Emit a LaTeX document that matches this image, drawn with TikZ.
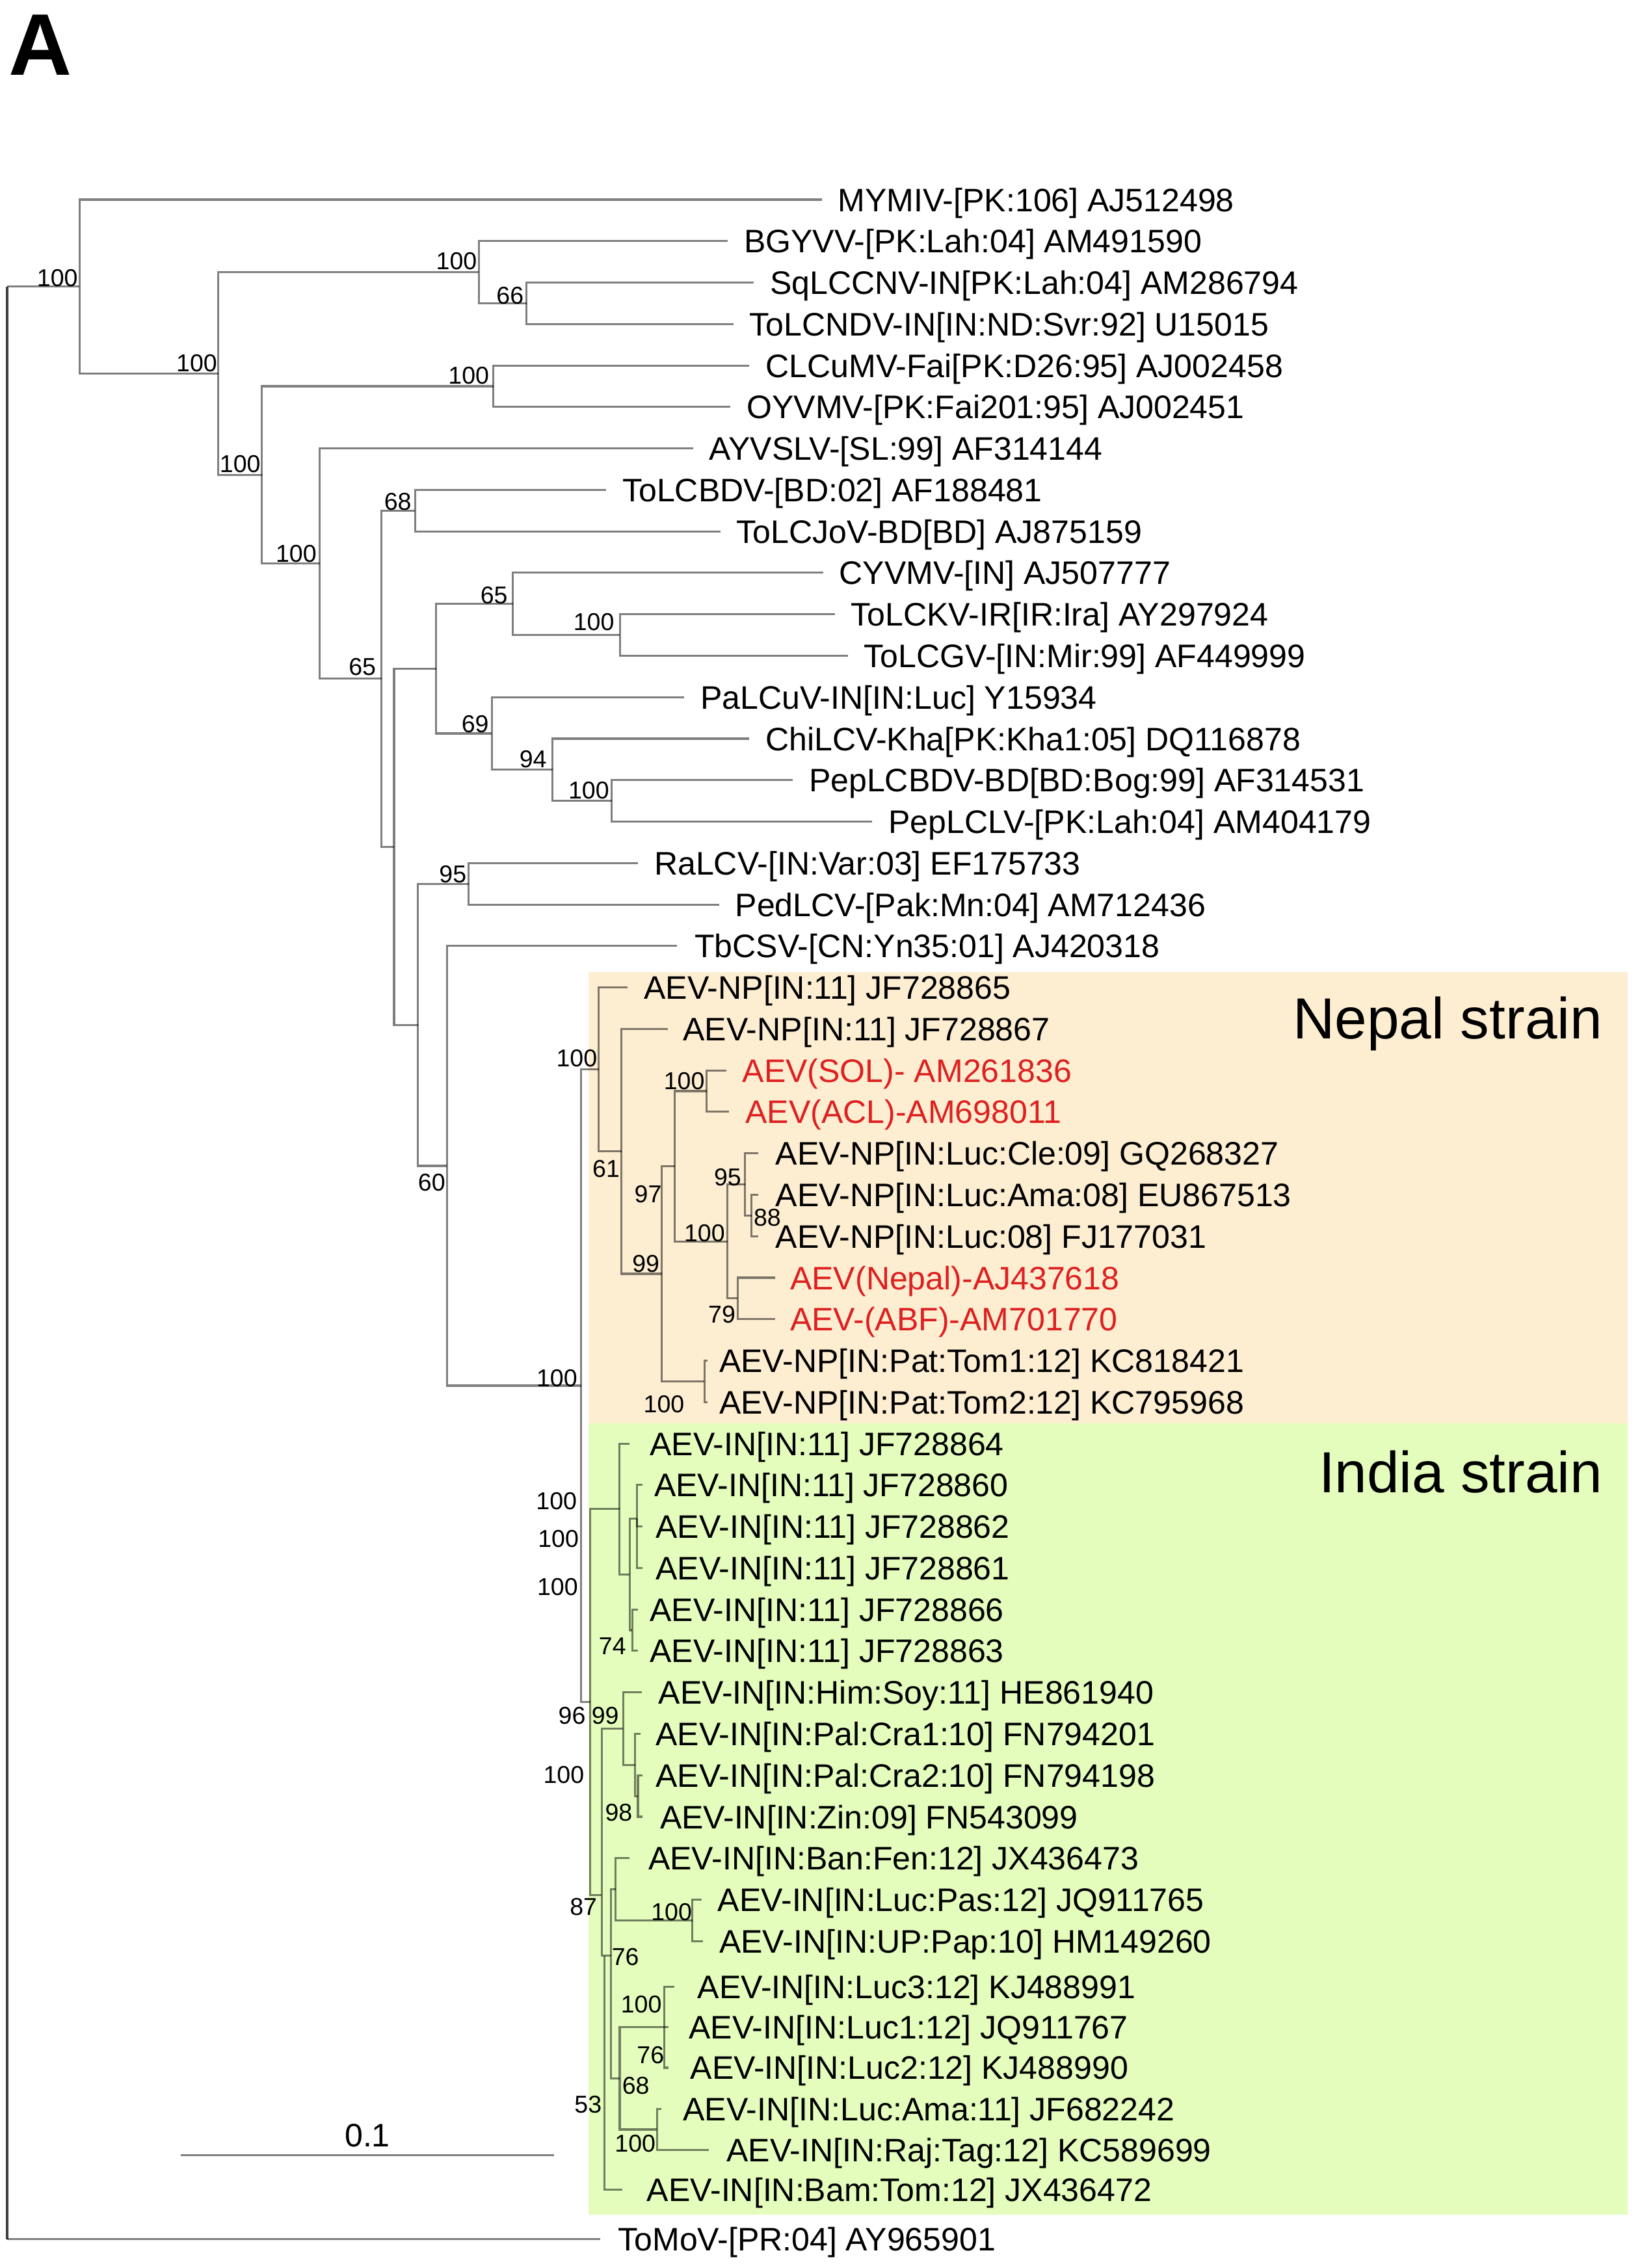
\documentclass[tikz,border=0pt]{standalone}
\usepackage{fontspec}
\setmainfont{Liberation Sans}
\definecolor{nepalbg}{RGB}{253,238,210}
\definecolor{indiabg}{RGB}{228,253,189}
\definecolor{aevred}{RGB}{222,32,32}
\newcommand{\tipfont}{\fontsize{16}{19}\selectfont}
\newcommand{\bsfont}{\fontsize{12}{14}\selectfont}
\newcommand{\tipleaf}[6][]{%
  \coordinate (t#2) at (#3,#5);
  \node[tipl,#1] (l#2) at (#4,#5+8.1) {#6};}
\begin{document}
\begin{tikzpicture}[x=0.025cm,y=-0.025cm,
  br/.style={draw=black,draw opacity=0.5,line width=1.0pt},
  tipl/.style={anchor=base west,inner sep=0pt,font=\tipfont},
  bs/.style={inner sep=0pt,font=\bsfont},
  redl/.style={text=aevred}]
\fill[white] (0,0) rectangle (1135,1568);
\useasboundingbox (0,0) rectangle (1135,1568);
% strain backgrounds
\fill[nepalbg] (407,672) rectangle (1125,984);
\fill[indiabg] (407,984) rectangle (1125,1531);
\node[anchor=base east,inner sep=0pt,font=\fontsize{28.5}{34}\selectfont] (nepal) at (1108,718) {Nepal strain};
\node[anchor=base east,inner sep=0pt,font=\fontsize{28.5}{34}\selectfont] (india) at (1108,1032) {India strain};
% panel letter
\node[anchor=base west,inner sep=0pt,font=\fontsize{43}{50}\selectfont\bfseries] (panel) at (6,51.7) {A};
% leaves
\tipleaf{1}{568}{579}{138}{MYMIV-[PK:106] AJ512498}
\tipleaf{2}{503}{514}{166.67}{BGYVV-[PK:Lah:04] AM491590}
\tipleaf{3}{521}{532}{195.33}{SqLCCNV-IN[PK:Lah:04] AM286794}
\tipleaf{4}{507}{518}{224}{ToLCNDV-IN[IN:ND:Svr:92] U15015}
\tipleaf{5}{518}{529}{252.67}{CLCuMV-Fai[PK:D26:95] AJ002458}
\tipleaf{6}{505}{516}{281.33}{OYVMV-[PK:Fai201:95] AJ002451}
\tipleaf{7}{479}{490}{310}{AYVSLV-[SL:99] AF314144}
\tipleaf{8}{419}{430}{338.67}{ToLCBDV-[BD:02] AF188481}
\tipleaf{9}{498}{509}{367.33}{ToLCJoV-BD[BD] AJ875159}
\tipleaf{10}{569}{580}{396}{CYVMV-[IN] AJ507777}
\tipleaf{11}{577}{588}{424.67}{ToLCKV-IR[IR:Ira] AY297924}
\tipleaf{12}{586}{597}{453.33}{ToLCGV-[IN:Mir:99] AF449999}
\tipleaf{13}{473}{484}{482}{PaLCuV-IN[IN:Luc] Y15934}
\tipleaf{14}{518}{529}{510.67}{ChiLCV-Kha[PK:Kha1:05] DQ116878}
\tipleaf{15}{548}{559}{539.33}{PepLCBDV-BD[BD:Bog:99] AF314531}
\tipleaf{16}{603}{614}{568}{PepLCLV-[PK:Lah:04] AM404179}
\tipleaf{17}{441}{452}{596.67}{RaLCV-[IN:Var:03] EF175733}
\tipleaf{18}{497}{508}{625.33}{PedLCV-[Pak:Mn:04] AM712436}
\tipleaf{19}{468}{480}{654}{TbCSV-[CN:Yn35:01] AJ420318}
\tipleaf{20}{434}{445}{682.67}{AEV-NP[IN:11] JF728865}
\tipleaf{21}{461.5}{472}{711.33}{AEV-NP[IN:11] JF728867}
\tipleaf[redl]{22}{502}{513}{740}{AEV(SOL)- AM261836}
\tipleaf[redl]{23}{504}{515}{768.67}{AEV(ACL)-AM698011}
\tipleaf{24}{524}{536}{797.33}{AEV-NP[IN:Luc:Cle:09] GQ268327}
\tipleaf{25}{524}{536}{826}{AEV-NP[IN:Luc:Ama:08] EU867513}
\tipleaf{26}{524}{536}{854.67}{AEV-NP[IN:Luc:08] FJ177031}
\tipleaf[redl]{27}{536}{546}{883.33}{AEV(Nepal)-AJ437618}
\tipleaf[redl]{28}{536}{546}{912}{AEV-(ABF)-AM701770}
\tipleaf{29}{489}{497}{940.67}{AEV-NP[IN:Pat:Tom1:12] KC818421}
\tipleaf{30}{489}{497}{969.33}{AEV-NP[IN:Pat:Tom2:12] KC795968}
\tipleaf{31}{435}{449}{998}{AEV-IN[IN:11] JF728864}
\tipleaf{32}{444}{452}{1026.67}{AEV-IN[IN:11] JF728860}
\tipleaf{33}{444}{453}{1055.33}{AEV-IN[IN:11] JF728862}
\tipleaf{34}{444}{453}{1084}{AEV-IN[IN:11] JF728861}
\tipleaf{35}{441}{449}{1112.67}{AEV-IN[IN:11] JF728866}
\tipleaf{36}{441}{449}{1141.33}{AEV-IN[IN:11] JF728863}
\tipleaf{37}{443.7}{455}{1170}{AEV-IN[IN:Him:Soy:11] HE861940}
\tipleaf{38}{443}{453}{1198.67}{AEV-IN[IN:Pal:Cra1:10] FN794201}
\tipleaf{39}{444}{453}{1227.33}{AEV-IN[IN:Pal:Cra2:10] FN794198}
\tipleaf{40}{444}{456}{1256}{AEV-IN[IN:Zin:09] FN543099}
\tipleaf{41}{435}{448}{1284.67}{AEV-IN[IN:Ban:Fen:12] JX436473}
\tipleaf{42}{485}{496}{1313.33}{AEV-IN[IN:Luc:Pas:12] JQ911765}
\tipleaf{43}{486}{497}{1342}{AEV-IN[IN:UP:Pap:10] HM149260}
\tipleaf{44}{466}{482}{1373.5}{AEV-IN[IN:Luc3:12] KJ488991}
\tipleaf{45}{462}{476}{1401.5}{AEV-IN[IN:Luc1:12] JQ911767}
\tipleaf{46}{462}{477}{1429.5}{AEV-IN[IN:Luc2:12] KJ488990}
\tipleaf{47}{457}{472}{1458}{AEV-IN[IN:Luc:Ama:11] JF682242}
\tipleaf{48}{490}{502}{1486.5}{AEV-IN[IN:Raj:Tag:12] KC589699}
\tipleaf{49}{430}{447}{1514}{AEV-IN[IN:Bam:Tom:12] JX436472}
\tipleaf{50}{415}{427}{1548}{ToMoV-[PR:04] AY965901}
% internal nodes
\coordinate (root) at (5,198.1);
\coordinate (rootb) at (5,1548);
\coordinate (A) at (55,198.1);
\coordinate (B) at (151,258.23);
\coordinate (C) at (331,188.17);
\coordinate (D) at (364,209.67);
\coordinate (F) at (181,328.3);
\coordinate (G) at (341,267);
\coordinate (H) at (221,389.6);
\coordinate (I) at (263.7,469.2);
\coordinate (J) at (287,353);
\coordinate (K) at (272.4,585.4);
\coordinate (L) at (301.6,462.29);
\coordinate (P) at (354.6,417.5);
\coordinate (Q) at (428.6,439);
\coordinate (R) at (340,507.08);
\coordinate (S) at (381.9,532.17);
\coordinate (T) at (422.8,553.67);
\coordinate (M) at (289,708.5);
\coordinate (Rr) at (324,611);
\coordinate (N) at (309,806);
\coordinate (O) at (401.7,957.97);
\coordinate (U) at (413.8,739.33);
\coordinate (V) at (429.7,795.99);
\coordinate (W) at (457.5,880.65);
\coordinate (X) at (466.4,806.29);
\coordinate (Y) at (488.6,754.33);
\coordinate (XX) at (503,858.25);
\coordinate (n95) at (515,818.83);
\coordinate (n88) at (519.6,840.33);
\coordinate (n79) at (510,897.67);
\coordinate (Pat) at (487,955);
\coordinate (Z) at (408,1176.6);
\coordinate (AA) at (428.2,1043.25);
\coordinate (BB) at (435.3,1088.5);
\coordinate (CC) at (440.5,1050);
\coordinate (DD) at (437,1127);
\coordinate (EE) at (416,1310);
\coordinate (FF) at (430.8,1195.08);
\coordinate (GG) at (439,1220.17);
\coordinate (HH) at (441,1241.67);
\coordinate (II) at (418,1352);
\coordinate (MM) at (422.5,1352);
\coordinate (KK) at (425.5,1306.17);
\coordinate (LL) at (478.6,1327.67);
\coordinate (NN) at (428.4,1436.9);
\coordinate (OO) at (459.2,1401.5);
\coordinate (QQ) at (454.2,1472.25);
% branches
\draw[br,draw opacity=0.75,line width=1.2pt] (root) -- (rootb);
\draw[br] (root) -- (A);
\draw[br] (rootb) -- (t50);
\draw[br] (A) |- (t1);
\draw[br] (A) |- (B);
\draw[br] (B) |- (C);
\draw[br] (B) |- (F);
\draw[br] (C) |- (t2);
\draw[br] (C) |- (D);
\draw[br] (D) |- (t3);
\draw[br] (D) |- (t4);
\draw[br] (F) |- (G);
\draw[br] (F) |- (H);
\draw[br] (G) |- (t5);
\draw[br] (G) |- (t6);
\draw[br] (H) |- (t7);
\draw[br] (H) |- (I);
\draw[br] (I) |- (J);
\draw[br] (I) |- (K);
\draw[br] (J) |- (t8);
\draw[br] (J) |- (t9);
\draw[br] (K) |- (L);
\draw[br] (K) |- (M);
\draw[br] (L) |- (P);
\draw[br] (L) |- (R);
\draw[br] (P) |- (t10);
\draw[br] (P) |- (Q);
\draw[br] (Q) |- (t11);
\draw[br] (Q) |- (t12);
\draw[br] (R) |- (t13);
\draw[br] (R) |- (S);
\draw[br] (S) |- (t14);
\draw[br] (S) |- (T);
\draw[br] (T) |- (t15);
\draw[br] (T) |- (t16);
\draw[br] (M) |- (Rr);
\draw[br] (M) |- (N);
\draw[br] (Rr) |- (t17);
\draw[br] (Rr) |- (t18);
\draw[br] (N) |- (t19);
\draw[br] (N) |- (O);
\draw[br] (O) |- (U);
\draw[br] (O) |- (Z);
% Nepal clade
\draw[br] (U) |- (t20);
\draw[br] (U) |- (V);
\draw[br] (V) |- (t21);
\draw[br] (V) |- (W);
\draw[br] (W) |- (X);
\draw[br] (W) |- (Pat);
\draw[br] (X) |- (Y);
\draw[br] (X) |- (XX);
\draw[br] (Y) |- (t22);
\draw[br] (Y) |- (t23);
\draw[br] (XX) |- (n95);
\draw[br] (XX) |- (n79);
\draw[br] (n95) |- (t24);
\draw[br] (n95) |- (n88);
\draw[br] (n88) |- (t25);
\draw[br] (n88) |- (t26);
\draw[br] (n79) |- (t27);
\draw[br] (n79) |- (t28);
\draw[br] (Pat) |- (t29);
\draw[br] (Pat) |- (t30);
% India clade
\draw[br] (Z) |- (AA);
\draw[br] (Z) |- (EE);
\draw[br] (AA) |- (t31);
\draw[br] (AA) |- (BB);
\draw[br] (BB) |- (CC);
\draw[br] (BB) |- (DD);
\draw[br] (CC) |- (t32);
\draw[br] (CC) |- (t33);
\draw[br] (CC) |- (t34);
\draw[br] (DD) |- (t35);
\draw[br] (DD) |- (t36);
\draw[br] (EE) |- (FF);
\draw[br] (EE) |- (II);
\draw[br] (FF) |- (t37);
\draw[br] (FF) |- (GG);
\draw[br] (GG) |- (t38);
\draw[br] (GG) |- (HH);
\draw[br] (HH) |- (t39);
\draw[br] (HH) |- (t40);
\draw[br] (II) -- (MM);
\draw[br] (II) |- (t49);
\draw[br] (MM) |- (KK);
\draw[br] (MM) |- (NN);
\draw[br] (KK) |- (t41);
\draw[br] (KK) |- (LL);
\draw[br] (LL) |- (t42);
\draw[br] (LL) |- (t43);
\draw[br] (NN) |- (OO);
\draw[br] (NN) |- (QQ);
\draw[br] (OO) |- (t44);
\draw[br] (OO) |- (t45);
\draw[br] (OO) |- (t46);
\draw[br] (QQ) |- (t47);
\draw[br] (QQ) |- (t48);
% bootstrap values
\node[bs] (b1) at (39.7,192) {100};
\node[bs] (b2) at (315.6,180.5) {100};
\node[bs] (b3) at (352.6,204.2) {66};
\node[bs] (b4) at (136,251.3) {100};
\node[bs] (b5) at (324,259.6) {100};
\node[bs] (b6) at (166,320.8) {100};
\node[bs] (b7) at (275,347) {68};
\node[bs] (b8) at (204.7,383) {100};
\node[bs] (b9) at (341.5,411.5) {65};
\node[bs] (b10) at (410.5,430) {100};
\node[bs] (b11) at (250.5,461.2) {65};
\node[bs] (b12) at (328.5,500.5) {69};
\node[bs] (b13) at (368.5,525) {94};
\node[bs] (b14) at (407,546.6) {100};
\node[bs] (b15) at (313,604.5) {95};
\node[bs] (b16) at (298.4,817.4) {60};
\node[bs] (b17) at (398.7,731.5) {100};
\node[bs] (b18) at (473,747.4) {100};
\node[bs] (b19) at (419,808) {61};
\node[bs] (b20) at (448,825.7) {97};
\node[bs] (b21) at (503,814) {95};
\node[bs] (b22) at (530.4,841.9) {88};
\node[bs] (b23) at (487,852.5) {100};
\node[bs] (b24) at (446.5,873.6) {99};
\node[bs] (b25) at (499,908.7) {79};
\node[bs] (b26) at (385,953) {100};
\node[bs] (b27) at (459,971) {100};
\node[bs] (b28) at (384.7,1038) {100};
\node[bs] (b29) at (386,1064) {100};
\node[bs] (b30) at (385.4,1097.3) {100};
\node[bs] (b31) at (423.4,1138) {74};
\node[bs] (b32) at (395.4,1186.3) {96};
\node[bs] (b33) at (418.4,1186.3) {99};
\node[bs] (b34) at (389.7,1227) {100};
\node[bs] (b35) at (427.7,1253) {98};
\node[bs] (b36) at (403.3,1318.4) {87};
\node[bs] (b37) at (464.2,1322) {100};
\node[bs] (b38) at (432.3,1352.7) {76};
\node[bs] (b39) at (443.3,1385.6) {100};
\node[bs] (b40) at (449.7,1420.8) {76};
\node[bs] (b41) at (439.5,1441.8) {68};
\node[bs] (b42) at (406.5,1454.8) {53};
\node[bs] (b43) at (439.1,1482) {100};
% scale bar
\coordinate (sb1) at (125,1490);
\coordinate (sb2) at (383,1490);
\draw[br] (sb1) -- (sb2);
\node[anchor=base,inner sep=0pt,font=\tipfont] (sbl) at (254,1484) {0.1};
\end{tikzpicture}
\end{document}
